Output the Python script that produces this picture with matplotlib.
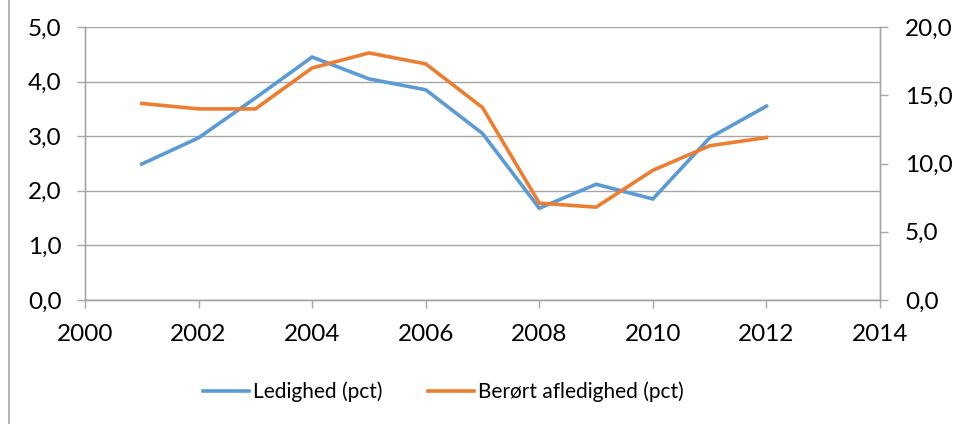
import matplotlib
matplotlib.use("Agg")
import matplotlib.pyplot as plt
from matplotlib.lines import Line2D
from matplotlib.ticker import FuncFormatter

years = [2001, 2002, 2003, 2004, 2005, 2006, 2007, 2008, 2009, 2010, 2011, 2012]
ledighed = [2.49, 2.97, 3.70, 4.45, 4.05, 3.85, 3.05, 1.68, 2.12, 1.85, 2.97, 3.55]
beroert = [14.4, 14.0, 14.0, 17.0, 18.1, 17.3, 14.1, 7.1, 6.8, 9.5, 11.3, 11.9]
label_left = "Ledighed (pct)"
label_right = "Berørt afledighed (pct)"

plt.rcParams['font.family'] = ['Lato', 'DejaVu Sans']
FS = 17.5
FSL = 15
GRAY = '#A6A6A6'
BLUE = '#5B9BD5'
ORANGE = '#ED7D31'

W, H = 959, 424
fig = plt.figure(figsize=(W / 100, H / 100), dpi=100)
ax = fig.add_axes([85 / W, (H - 300) / H, (880 - 85) / W, (300 - 27) / H])
ax2 = ax.twinx()

fmt = FuncFormatter(lambda v, p: f"{v:.1f}".replace('.', ','))

ax.plot(years, ledighed, color=BLUE, lw=2.6, solid_joinstyle='miter', label=label_left)
ax2.plot(years, beroert, color=ORANGE, lw=2.6, solid_joinstyle='miter', label=label_right)

ax.set_xlim(2000, 2014)
ax.set_xticks(range(2000, 2015, 2))
ax.set_ylim(0, 5)
ax.set_yticks([0, 1, 2, 3, 4, 5])
ax.yaxis.set_major_formatter(fmt)
ax2.set_ylim(0, 20)
ax2.set_yticks([0, 5, 10, 15, 20])
ax2.yaxis.set_major_formatter(fmt)

ax.yaxis.grid(True, color=GRAY, lw=1.0)
ax.set_axisbelow(True)

for a in (ax, ax2):
    a.spines['top'].set_visible(False)
    for s in ('left', 'right', 'bottom'):
        a.spines[s].set_color(GRAY)
        a.spines[s].set_linewidth(1.0)

ax.tick_params(axis='both', direction='out', length=6, width=1, color=GRAY,
               labelsize=FS, labelcolor='black')
ax.tick_params(axis='y', pad=11)
ax.tick_params(axis='x', pad=11)
ax2.tick_params(axis='y', direction='out', length=6, width=1, color=GRAY,
                labelsize=FS, labelcolor='black', pad=12)

handles = [Line2D([], [], color=BLUE, lw=2.6), Line2D([], [], color=ORANGE, lw=2.6)]
fig.legend(handles, [label_left, label_right], loc='center', ncol=2,
           bbox_to_anchor=(443.5 / W, (H - 392) / H), frameon=False, fontsize=FSL,
           handlelength=2.2, handletextpad=0.2, columnspacing=2.2)

fig.add_artist(Line2D([9 / W, 9 / W], [0, 1], color=GRAY, lw=1.2,
                      transform=fig.transFigure))

fig.savefig('out.png', dpi=100, facecolor='white')
